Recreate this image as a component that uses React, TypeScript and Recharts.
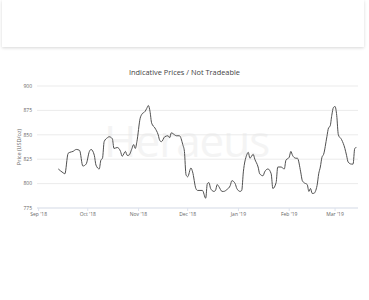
import React from 'react';
import { LineChart, Line, XAxis, YAxis, CartesianGrid } from 'recharts';

// Daily indicative price readings (USD/oz)
const dates: string[] = [
  '2018-09-13', '2018-09-16', '2018-09-17', '2018-09-19', '2018-09-20', '2018-09-22', '2018-09-24',
  '2018-09-26', '2018-09-28', '2018-09-30', '2018-10-02', '2018-10-03', '2018-10-05', '2018-10-06',
  '2018-10-08', '2018-10-09', '2018-10-10', '2018-10-11', '2018-10-13', '2018-10-14', '2018-10-16',
  '2018-10-17', '2018-10-19', '2018-10-21', '2018-10-22', '2018-10-24', '2018-10-25', '2018-10-26',
  '2018-10-28', '2018-10-29', '2018-10-30', '2018-10-31', '2018-11-02', '2018-11-03', '2018-11-05',
  '2018-11-06', '2018-11-07', '2018-11-08', '2018-11-09', '2018-11-11', '2018-11-13', '2018-11-14',
  '2018-11-15', '2018-11-17', '2018-11-19', '2018-11-20', '2018-11-21', '2018-11-23', '2018-11-24',
  '2018-11-26', '2018-11-28', '2018-11-29', '2018-11-30', '2018-12-01', '2018-12-03', '2018-12-04',
  '2018-12-06', '2018-12-07', '2018-12-10', '2018-12-12', '2018-12-13', '2018-12-14', '2018-12-15',
  '2018-12-17', '2018-12-18', '2018-12-19', '2018-12-20', '2018-12-22', '2018-12-23', '2018-12-25',
  '2018-12-27', '2018-12-28', '2018-12-30', '2018-12-31', '2019-01-02', '2019-01-03', '2019-01-04',
  '2019-01-06', '2019-01-07', '2019-01-08', '2019-01-10', '2019-01-11', '2019-01-13', '2019-01-14',
  '2019-01-16', '2019-01-17', '2019-01-19', '2019-01-21', '2019-01-22', '2019-01-24', '2019-01-25',
  '2019-01-27', '2019-01-29', '2019-01-30', '2019-02-01', '2019-02-02', '2019-02-03', '2019-02-05',
  '2019-02-06', '2019-02-08', '2019-02-09', '2019-02-10', '2019-02-12', '2019-02-13', '2019-02-14',
  '2019-02-15', '2019-02-16', '2019-02-18', '2019-02-19', '2019-02-20', '2019-02-21', '2019-02-22',
  '2019-02-24', '2019-02-25', '2019-02-26', '2019-02-27', '2019-02-28', '2019-03-01', '2019-03-02',
  '2019-03-03', '2019-03-05', '2019-03-07', '2019-03-08', '2019-03-09', '2019-03-11', '2019-03-12',
  '2019-03-13', '2019-03-14',
];

const prices: number[] = [
  815, 811, 810, 831, 832, 833, 835,
  834, 818, 820, 833, 835, 829, 819,
  815, 824, 826, 843, 847, 848, 846,
  836, 837, 833, 828, 833, 829, 829,
  836, 840, 836, 843, 867, 871, 874,
  877, 880, 874, 862, 857, 850, 844,
  843, 848, 849, 847, 852, 850, 849,
  849, 840, 833, 809, 807, 816, 812,
  795, 793, 793, 785, 800, 801, 795,
  792, 793, 799, 797, 792, 792, 794,
  798, 803, 800, 795, 792, 793, 812,
  829, 832, 826, 830, 825, 817, 810,
  808, 812, 815, 810, 795, 801, 817,
  817, 815, 824, 827, 833, 829, 826,
  826, 812, 803, 801, 799, 792, 795,
  790, 790, 798, 810, 817, 827, 830,
  848, 857, 859, 870, 878, 879, 870,
  850, 845, 836, 829, 822, 820, 820,
  836, 837,
];

const priceTicks: number[] = [775, 800, 825, 850, 875, 900];
const monthTicks: string[] = [
  '2018-09-01', '2018-10-01', '2018-11-01', '2018-12-01', '2019-01-01', '2019-02-01', '2019-03-01',
];
const monthLabels: string[] = ["Sep '18", "Oct '18", "Nov '18", "Dec '18", "Jan '19", "Feb '19", "Mar '19"];
const rangeStart = '2018-08-31';
const rangeEnd = '2019-03-15';

const toTime = (s: string) => Date.parse(s + 'T00:00:00Z');

const data = dates.map((d, i) => ({ t: toTime(d), price: prices[i] }));
const tickTimes = monthTicks.map(toTime);
const labelFor = (t: number) => {
  const i = tickTimes.indexOf(t);
  return i >= 0 ? monthLabels[i] : '';
};

const FONT = '"Open Sans", "DejaVu Sans", sans-serif';

export default function App() {
  return (
    <div
      style={{
        position: 'absolute',
        left: 0,
        top: 0,
        width: 369,
        height: 300,
        background: '#ffffff',
        overflow: 'hidden',
        fontFamily: FONT,
      }}
    >
      {/* header strip */}
      <div
        style={{
          position: 'absolute',
          left: 2,
          top: 0,
          width: 362,
          height: 47,
          background: '#ffffff',
          boxShadow: '0 1px 3px rgba(0,0,0,0.16)',
        }}
      />
      {/* watermark */}
      <div
        style={{
          position: 'absolute',
          left: 104,
          top: 113,
          width: 170,
          fontSize: 44,
          lineHeight: '54px',
          color: '#f4f4f4',
          fontFamily: '"Open Sans", sans-serif',
          letterSpacing: -1,
        }}
      >
        Heraeus
      </div>
      {/* title */}
      <div
        style={{
          position: 'absolute',
          left: 0,
          top: 67,
          width: 369,
          textAlign: 'center',
          fontSize: 7.4,
          lineHeight: '10px',
          color: '#444444',
        }}
      >
        Indicative Prices / Not Tradeable
      </div>
      {/* y-axis title */}
      <div
        style={{
          position: 'absolute',
          left: 18.5,
          top: 147,
          width: 0,
          height: 0,
        }}
      >
        <div
          style={{
            position: 'absolute',
            left: -40,
            top: -4,
            width: 80,
            textAlign: 'center',
            fontSize: 5.5,
            lineHeight: '8px',
            color: '#666666',
            transform: 'rotate(-90deg)',
            whiteSpace: 'nowrap',
          }}
        >
          Price (USD/oz)
        </div>
      </div>
      <div style={{ position: 'absolute', left: 0, top: 0 }}>
        <LineChart
          width={369}
          height={300}
          data={data}
          margin={{ top: 86, right: 11, bottom: 72, left: 7 }}
        >
          <CartesianGrid horizontal vertical={false} stroke="#e6e6e6" strokeWidth={0.8} />
          <XAxis
            dataKey="t"
            type="number"
            scale="time"
            domain={[toTime(rangeStart), toTime(rangeEnd)]}
            ticks={tickTimes}
            tickFormatter={labelFor}
            height={20}
            stroke="#dde3ef"
            tickSize={3}
            tickMargin={1}
            tick={{ fontSize: 5, fill: '#666666', fontFamily: FONT }}
            allowDataOverflow
          />
          <YAxis
            type="number"
            domain={[775, 900]}
            ticks={priceTicks}
            width={30}
            axisLine={false}
            tickLine={false}
            tickSize={0}
            tickMargin={5}
            tick={{ fontSize: 5, fill: '#666666', fontFamily: FONT }}
          />
          <Line
            type="monotone"
            dataKey="price"
            stroke="#505050"
            strokeWidth={1}
            dot={false}
            isAnimationActive={false}
          />
        </LineChart>
      </div>
    </div>
  );
}
